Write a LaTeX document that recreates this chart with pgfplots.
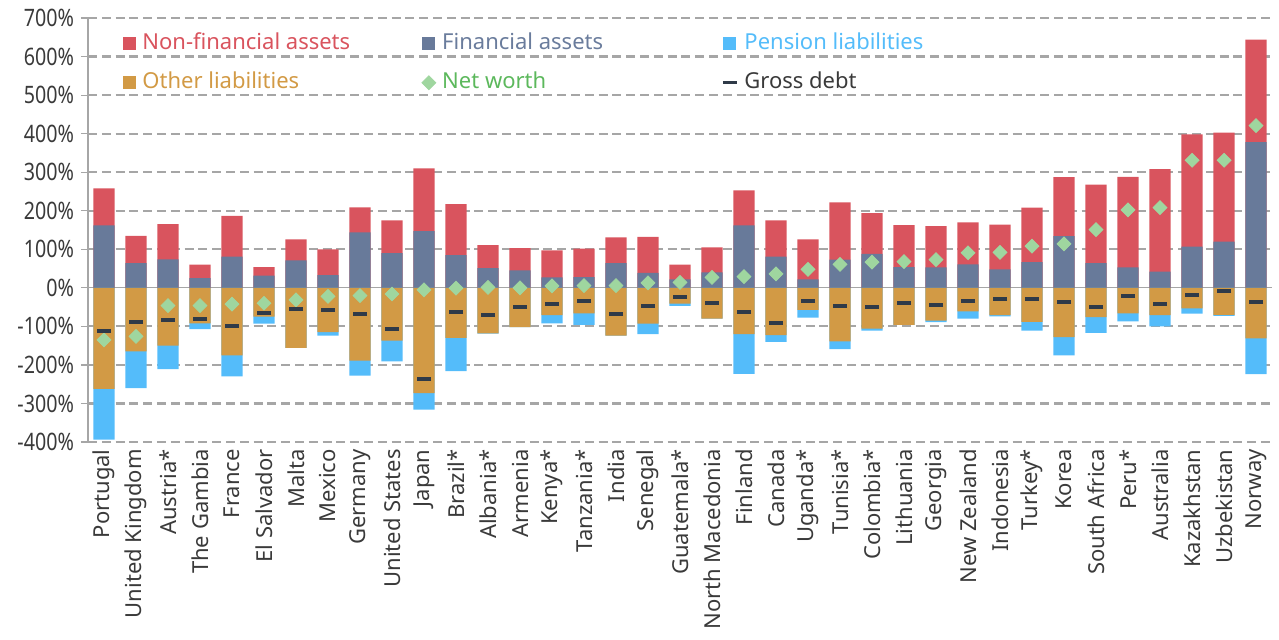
\documentclass[border=0pt]{standalone}
\usepackage{pgfplots}
\pgfplotsset{compat=1.18}
\usepackage{pgfplotstable}
\usepackage{fontspec}
\setmainfont{Noto Sans}
\newfontfamily\tickfont[FakeStretch=0.82]{Noto Sans}

\definecolor{nfa}{HTML}{D9545E}
\definecolor{fa}{HTML}{687A9A}
\definecolor{fatext}{HTML}{6A7C9C}
\definecolor{pl}{HTML}{54BCFA}
\definecolor{ol}{HTML}{D29A45}
\definecolor{nw}{HTML}{9FD69F}
\definecolor{nwtext}{HTML}{5CB85C}
\definecolor{gd}{HTML}{2F3A48}
\definecolor{gridgray}{HTML}{A6A6A6}
\definecolor{labelgray}{HTML}{3A3A3A}

% FA = financial assets, NFA = non-financial assets, OL = other liabilities,
% PL = pension liabilities, NW = net worth, GD = gross debt (% of GDP)
\pgfplotstableread{
x  FA   NFA  OL    PL    NW    GD
0  162  96   -262  -132  -135  -111
1  64   71   -165  -95   -126  -88
2  74   91   -150  -61   -46   -84
3  25   35   -92   -15   -46   -81
4  81   106  -175  -55   -42   -98
5  32   22   -75   -18   -40   -66
6  71   55   -156  0     -31   -55
7  33   67   -115  -9    -22   -57
8  144  65   -189  -39   -20   -68
9  90   85   -137  -54   -16   -106
10 147  163  -273  -43   -5    -236
11 85   132  -130  -86   -1    -62
12 51   60   -118  -1    1     -70
13 45   58   -102  0     0     -51
14 27   70   -71   -21   5     -43
15 28   74   -66   -30   6     -33
16 64   67   -124  0     6     -67
17 39   93   -93   -27   13    -47
18 22   38   -41   -6    14    -24
19 40   65   -80   0     27    -40
20 162  91   -120  -103  29    -63
21 81   94   -123  -17   36    -92
22 22   104  -57   -20   48    -34
23 73   149  -139  -20   61    -46
24 88   106  -106  -5    67    -49
25 54   109  -96   0     68    -40
26 53   107  -85   -4    73    -44
27 61   109  -61   -19   91    -33
28 48   116  -71   -3    92    -28
29 67   141  -88   -23   108   -30
30 134  153  -128  -47   114   -37
31 64   204  -76   -41   151   -51
32 53   235  -66   -21   202   -20
33 42   266  -71   -29   208   -41
34 107  291  -53   -14   331   -19
35 120  283  -70   -3    331   -9
36 378  266  -131  -93   421   -36
}\data

\begin{document}
\begin{tikzpicture}
\path[use as bounding box] (-44pt,-98.5pt) rectangle (595.5pt,221pt);
\begin{axis}[
    at={(0pt,0pt)}, anchor=south west,
    scale only axis,
    width=592pt, height=212pt,
    xmin=-0.5, xmax=36.5,
    ymin=-400, ymax=700,
    axis lines*=left,
    x axis line style={draw=none},
    y axis line style={draw=gridgray, line width=0.6pt},
    xtick={0,...,36},
    xticklabels={Portugal, United Kingdom, Austria*, The Gambia, France, El Salvador, Malta, Mexico, Germany, United States, Japan, Brazil*, Albania*, Armenia, Kenya*, Tanzania*, India, Senegal, Guatemala*, North Macedonia, Finland, Canada, Uganda*, Tunisia*, Colombia*, Lithuania, Georgia, New Zealand, Indonesia, Turkey*, Korea, South Africa, Peru*, Australia, Kazakhstan, Uzbekistan, Norway},
    xtick style={draw=none},
    xticklabel style={rotate=90, anchor=east, inner sep=0pt, text=labelgray, font=\fontsize{11pt}{13pt}\selectfont},
    ytick={-400,-300,-200,-100,100,200,300,400,500,600,700},
    yticklabels={-400\%,-300\%,-200\%,-100\%,100\%,200\%,300\%,400\%,500\%,600\%,700\%},
    extra y ticks={0},
    extra y tick labels={0\%},
    extra y tick style={major grid style={solid, draw=gridgray, line width=0.6pt}},
    yticklabel style={text=labelgray, font=\tickfont\fontsize{12pt}{14pt}\selectfont},
    tick align=outside,
    major tick length=3.5pt,
    y tick style={draw=gridgray, line width=0.6pt},
    ymajorgrids,
    major grid style={draw=gridgray, line width=1.1pt, dash pattern=on 4.5pt off 2.4pt},
    legend columns=3,
    legend cell align=left,
    legend style={at={(0.0296,0.965)}, anchor=north west, draw=none, fill=none,
        inner sep=0pt, row sep=9pt, column sep=0pt,
        font=\fontsize{11pt}{13pt}\selectfont,
        nodes={inner sep=0pt, text height=8pt, text depth=2.5pt, anchor=west},
        /tikz/every odd column/.append style={column sep=3pt}},
]
\addplot[ybar, bar width=10.65pt, bar shift=0pt, fill=nfa, draw=none,
    legend image code/.code={\fill[nfa] (0pt,-3.25pt) rectangle (6.5pt,3.25pt);}]
    table[x=x, y expr=\thisrow{FA}+\thisrow{NFA}] {\data};
\addlegendentry{\makebox[139.5pt][l]{\textcolor{nfa}{Non-financial assets}}}
\addplot[ybar, bar width=10.65pt, bar shift=0pt, fill=fa, draw=none,
    legend image code/.code={\fill[fa] (0pt,-3.25pt) rectangle (6.5pt,3.25pt);}]
    table[x=x, y=FA] {\data};
\addlegendentry{\makebox[139.5pt][l]{\textcolor{fatext}{Financial assets}}}
\addplot[ybar, bar width=10.65pt, bar shift=0pt, fill=pl, draw=none,
    legend image code/.code={\fill[pl] (0pt,-3.25pt) rectangle (6.5pt,3.25pt);}]
    table[x=x, y expr=\thisrow{OL}+\thisrow{PL}] {\data};
\addlegendentry{\makebox[139.5pt][l]{\textcolor{pl}{Pension liabilities}}}
\addplot[ybar, bar width=10.65pt, bar shift=0pt, fill=ol, draw=none,
    legend image code/.code={\fill[ol] (0pt,-3.25pt) rectangle (6.5pt,3.25pt);}]
    table[x=x, y=OL] {\data};
\addlegendentry{\makebox[139.5pt][l]{\textcolor{ol}{Other liabilities}}}
\addplot[only marks, color=nw, mark=square*, mark size=2.45pt,
    mark options={rotate=45, fill=nw, draw=nw},
    legend image code/.code={\fill[nw] (3.25pt,3.5pt) -- (6.75pt,0pt) -- (3.25pt,-3.5pt) -- (-0.25pt,0pt) -- cycle;}]
    table[x=x, y=NW] {\data};
\addlegendentry{\makebox[139.5pt][l]{\textcolor{nwtext}{Net worth}}}
\addplot[only marks, color=gd, mark=-, mark size=3.5pt,
    mark options={draw=gd, line width=2pt},
    legend image code/.code={\draw[gd, line width=1.6pt] (0pt,0pt) -- (7pt,0pt);}]
    table[x=x, y=GD] {\data};
\addlegendentry{\makebox[139.5pt][l]{\textcolor{labelgray}{Gross debt}}}
\end{axis}
\end{tikzpicture}
\end{document}
